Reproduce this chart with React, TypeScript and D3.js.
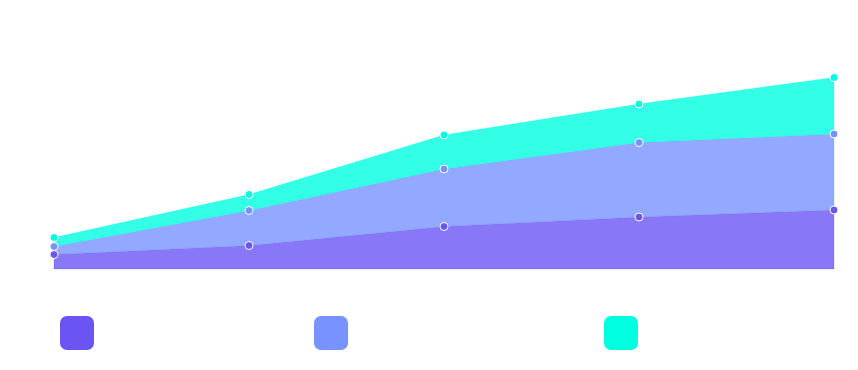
import React from "react";
import * as d3 from "d3";

const categories = ["A", "B", "C", "D", "E"];
const seriesNames = ["Series 1", "Series 2", "Series 3"];
const series1 = [14.5, 23.5, 42.5, 52, 59];
const series2 = [8, 35, 57.5, 74.5, 76];
const series3 = [9, 16, 34, 38.5, 56.5];
const colors = ["#6a55f4", "#7892ff", "#00ffe0"];
const legendX = [60, 314, 604];

export default function App() {
  const W = 858, H = 370;
  const x = d3.scalePoint<string>().domain(categories).range([54, 834]);
  const y = d3.scaleLinear().domain([0, 240]).range([269, 29]);
  const rows = categories.map((c, i) => ({ c, s0: series1[i], s1: series2[i], s2: series3[i] }));
  const stack = d3.stack<any>().keys(["s0", "s1", "s2"]);
  const layers = stack(rows);
  const area = d3
    .area<any>()
    .x((d) => x(d.data.c) as number)
    .y0((d) => y(d[0]))
    .y1((d) => y(d[1]));
  return (
    <svg width={W} height={H} style={{ position: "absolute", left: 0, top: 0 }}>
      <rect width={W} height={H} fill="#fff" />
      {layers.map((l, i) => (
        <path key={i} d={area(l) || ""} fill={colors[i]} fillOpacity={0.8} stroke={colors[i]} strokeOpacity={0.25} strokeWidth={1} />
      ))}
      {layers.map((l, i) =>
        l.map((d, j) => (
          <circle key={`${i}-${j}`} cx={x(d.data.c) as number} cy={y(d[1])} r={4} fill={colors[i]} stroke="#fff" strokeWidth={1} />
        ))
      )}
      {seriesNames.map((n, i) => (
        <g key={n}>
          <rect x={legendX[i]} y={316} width={34} height={34} rx={7} fill={colors[i]} />
        </g>
      ))}
    </svg>
  );
}
